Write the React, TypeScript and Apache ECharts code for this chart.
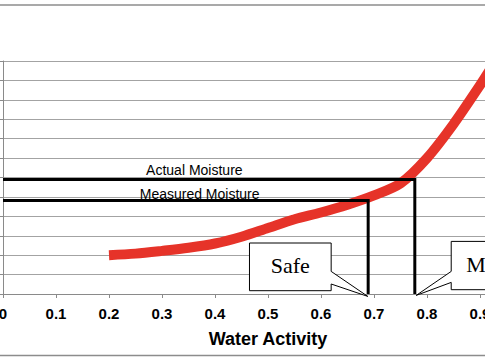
import React, { useEffect, useRef } from "react";
import * as echarts from "echarts";

// Curve: water activity vs moisture (gridline units)
const waterActivity = [0.2, 0.25, 0.3, 0.35, 0.4, 0.45, 0.5, 0.55, 0.6, 0.65, 0.7, 0.75, 0.8, 0.85, 0.9, 0.92];
const moisture = [2.0, 2.08, 2.22, 2.38, 2.6, 2.95, 3.4, 3.85, 4.2, 4.6, 5.08, 5.7, 7.0, 8.75, 10.75, 11.6];

// Reference lines
const actualAw = 0.777;
const actualMoisture = 5.9;
const measuredAw = 0.689;
const measuredMoisture = 4.82;

const lineLabels = ["Actual Moisture", "Measured Moisture"];
const lineLabelAw = [0.361, 0.371];
const calloutTexts = ["Safe", "Mold"];

const xTicks = { min: 0, max: 1, interval: 0.1 };
const yTicks = { min: 0, max: 12, interval: 1 };

const RED = "#e63329";
const GRID = "#a3a3a3";
const AXIS = "#8a8a8a";
const SANS = "Liberation Sans, Arial, sans-serif";
const SERIF = "Liberation Serif, Times New Roman, serif";

const CHART_W = 545;

export default function App() {
  const ref = useRef<HTMLDivElement>(null);

  useEffect(() => {
    if (!ref.current) return;
    const chart = echarts.init(ref.current, null, { renderer: "svg" });
    const curve = waterActivity.map((x, i) => [x, moisture[i]]);
    chart.setOption({
      animation: false,
      backgroundColor: "#ffffff",
      grid: { left: 3, top: 61, width: 530, height: 233, containLabel: false, outerBoundsMode: "none" },
      xAxis: {
        type: "value",
        min: xTicks.min,
        max: xTicks.max,
        interval: xTicks.interval,
        name: "Water Activity",
        nameLocation: "middle",
        nameGap: 36,
        nameTextStyle: { fontFamily: SANS, fontWeight: "bold", fontSize: 18, color: "#000" },
        axisLine: { show: true, lineStyle: { color: AXIS, width: 1 } },
        axisTick: { show: true, length: 4, lineStyle: { color: AXIS } },
        axisLabel: { fontFamily: SANS, fontWeight: "bold", fontSize: 15, color: "#000", margin: 12, hideOverlap: false },
        splitLine: { show: false },
      },
      yAxis: {
        type: "value",
        min: yTicks.min,
        max: yTicks.max,
        interval: yTicks.interval,
        axisLine: { show: true, lineStyle: { color: AXIS, width: 1 } },
        axisTick: { show: true, length: 4, lineStyle: { color: AXIS } },
        axisLabel: { show: false },
        splitLine: { show: true, lineStyle: { color: GRID, width: 1.2 } },
      },
      series: [
        {
          type: "line",
          data: curve,
          symbol: "none",
          smooth: 0.3,
          lineStyle: { color: RED, width: 10, cap: "butt" },
          z: 2,
        },
        {
          type: "line",
          data: [[0, actualMoisture], [actualAw, actualMoisture], [actualAw, 0]],
          symbol: "none",
          lineStyle: { color: "#000", width: 3, join: "miter" },
          z: 3,
        },
        {
          type: "line",
          data: [[0, measuredMoisture], [measuredAw, measuredMoisture], [measuredAw, 0]],
          symbol: "none",
          lineStyle: { color: "#000", width: 3, join: "miter" },
          z: 3,
        },
      ],
    });

    const p = (x: number, y: number) => chart.convertToPixel({ gridIndex: 0 }, [x, y]) as number[];
    const a = p(lineLabelAw[0], actualMoisture);
    const m = p(lineLabelAw[1], measuredMoisture);
    const t1 = p(measuredAw, 0);
    const t2 = p(actualAw, 0);

    const safeLeft = t1[0] - 118.7, safeRight = t1[0] - 37, safeTop = t1[1] - 51, safeBottom = t1[1] - 3.3;
    const moldLeft = t2[0] + 36.4, moldRight = t2[0] + 118, moldTop = t2[1] - 52.6, moldBottom = t2[1] - 4.3;

    chart.setOption({
      graphic: [
        { type: "line", shape: { x1: 0, y1: 5, x2: CHART_W, y2: 5 }, style: { stroke: "#8c8c8c", lineWidth: 1.6 }, z: 10 },
        { type: "line", shape: { x1: 0, y1: 355.5, x2: CHART_W, y2: 355.5 }, style: { stroke: "#8c8c8c", lineWidth: 1.6 }, z: 10 },
        {
          type: "text", x: a[0], y: a[1] - 2.5,
          style: { text: lineLabels[0], font: `14px ${SANS}`, fill: "#000", textAlign: "center", textVerticalAlign: "bottom" },
          z: 10,
        },
        {
          type: "text", x: m[0], y: m[1] + 0.5,
          style: { text: lineLabels[1], font: `14px ${SANS}`, fill: "#000", textAlign: "center", textVerticalAlign: "bottom" },
          z: 10,
        },
        {
          type: "polygon",
          shape: {
            points: [
              [safeLeft, safeTop], [safeRight, safeTop], [safeRight, t1[1] - 22.6],
              [t1[0] - 0.4, t1[1] + 2.4], [safeRight, t1[1] - 10], [safeRight, safeBottom], [safeLeft, safeBottom],
            ],
          },
          style: { fill: "#fff", stroke: "#000", lineWidth: 1 },
          z: 20,
        },
        {
          type: "text", x: (safeLeft + safeRight) / 2, y: (safeTop + safeBottom) / 2 - 1,
          style: { text: calloutTexts[0], font: `22px ${SERIF}`, fill: "#000", textAlign: "center", textVerticalAlign: "middle" },
          z: 21,
        },
        {
          type: "polygon",
          shape: {
            points: [
              [moldLeft, moldTop], [moldRight, moldTop], [moldRight, moldBottom], [moldLeft, moldBottom],
              [moldLeft, t2[1] - 11.6], [t2[0] + 1.4, t2[1] + 1.4], [moldLeft, t2[1] - 22.6],
            ],
          },
          style: { fill: "#fff", stroke: "#000", lineWidth: 1 },
          z: 20,
        },
        {
          type: "text", x: moldLeft + 15, y: (moldTop + moldBottom) / 2 - 1,
          style: { text: calloutTexts[1], font: `22px ${SERIF}`, fill: "#000", textAlign: "left", textVerticalAlign: "middle" },
          z: 21,
        },
      ],
    });

    return () => chart.dispose();
  }, []);

  return (
    <div style={{ position: "fixed", left: 0, top: 0, width: 485, height: 360, overflow: "hidden", background: "#fff" }}>
      <div ref={ref} style={{ position: "absolute", left: 0, top: 0, width: CHART_W, height: 360 }} />
    </div>
  );
}
